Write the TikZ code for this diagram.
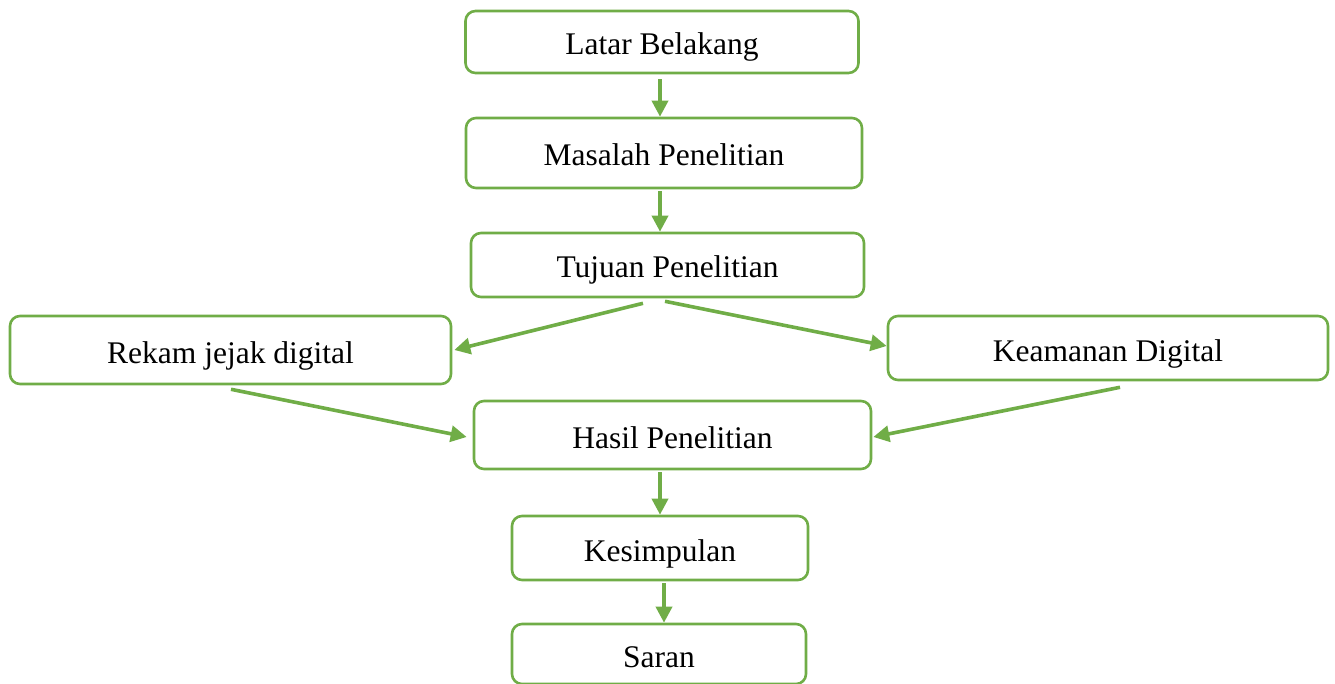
\documentclass[tikz,border=0pt]{standalone}
\usepackage{fontspec}
\setmainfont{Liberation Serif}
\usetikzlibrary{arrows.meta,calc}
\definecolor{grn}{RGB}{112,173,71}
\tikzset{
  box/.style={draw=grn, line width=2.6pt, rounded corners=10pt, inner sep=0pt, fill=white,
    font=\fontsize{31.5}{36}\selectfont, text=black, text height=26pt, text depth=0pt},
  arr/.style={draw=grn, line width=3.6pt, -{Triangle[length=16pt,width=16pt]}}
}
\begin{document}
\begin{tikzpicture}[x=1pt,y=-1pt]
\useasboundingbox (0,0) rectangle (1335,684);
\node[box, minimum width=393pt, minimum height=62pt] (lb) at (662,42) {Latar Belakang};
\node[box, minimum width=396pt, minimum height=70pt] (mp) at (664,153) {Masalah Penelitian};
\node[box, minimum width=393pt, minimum height=64pt] (tp) at (667.5,265) {Tujuan Penelitian};
\node[box, minimum width=441pt, minimum height=68pt] (rj) at (230.5,350) {Rekam jejak digital};
\node[box, minimum width=440pt, minimum height=64pt] (kd) at (1108,348) {Keamanan Digital};
\node[box, minimum width=397pt, minimum height=68pt] (hp) at (672.5,435) {Hasil Penelitian};
\node[box, minimum width=296pt, minimum height=64pt] (ks) at (660,548) {Kesimpulan};
\node[box, minimum width=294pt, minimum height=60pt] (sr) at (659,654) {Saran};
\draw[arr] ($(lb.south)+(-2,5)$) -- ($(mp.north)+(-4,0)$);
\draw[arr] ($(mp.south)+(-4,2)$) -- ($(tp.north)+(-7.5,0)$);
\draw[arr] ($(tp.south)+(-24.5,5)$) -- ($(rj.east)+(2,0)$);
\draw[arr] ($(tp.south)+(-2.5,3)$) -- ($(kd.west)+(0,-2)$);
\draw[arr] ($(rj.south)+(0.5,4)$) -- ($(hp.west)+(-6,2)$);
\draw[arr] ($(kd.south)+(12,6)$) -- ($(hp.east)+(1,2)$);
\draw[arr] ($(hp.south)+(-12.5,2)$) -- ($(ks.north)+(0,0)$);
\draw[arr] ($(ks.south)+(4,2)$) -- ($(sr.north)+(5,0)$);
\end{tikzpicture}
\end{document}
